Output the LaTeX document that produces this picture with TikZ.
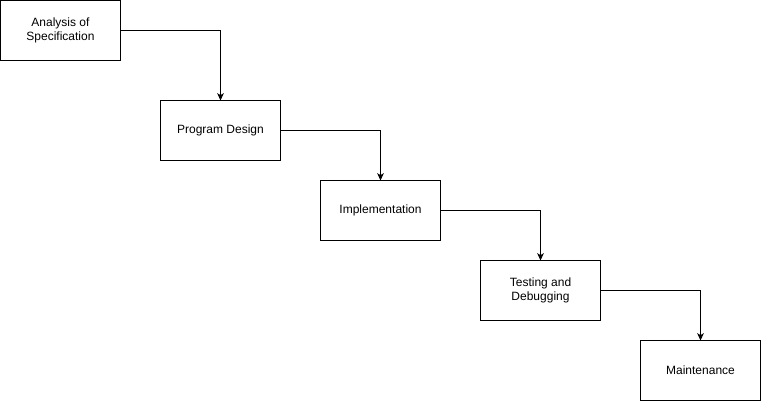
\documentclass[tikz,border=0pt]{standalone}
\usepackage{fontspec}
\setmainfont{Liberation Sans}
\usepackage{tikz}
\usetikzlibrary{positioning,arrows.meta}

\begin{document}
\begin{tikzpicture}[>={Stealth[length=5.5pt,width=5pt,inset=1.5pt]},
  line width=0.75pt,node distance=15pt and 30pt,
  stage node/.style={rectangle,draw,outer sep=0pt,minimum width=90pt,
    minimum height=45pt,align=center,font=\fontsize{9}{10.5}\selectfont}]
  \node[stage node] (1) {Analysis of\\Specification};
  \node[stage node] (2) [below right=30pt and 30pt of 1] {Program Design};
  \node[stage node] (3) [below right=of 2] {Implementation};
  \node[stage node] (4) [below right=of 3] {Testing and\\Debugging};
  \node[stage node] (5) [below right=of 4] {Maintenance};

  \useasboundingbox ([shift={(-0.375pt,0.375pt)}]1.north west)
    rectangle ([shift={(1.125pt,-1.125pt)}]5.south east);

  \draw[->] (1) -| (2);
  \draw[->] (2) -| (3);
  \draw[->] (3) -| (4);
  \draw[->] (4) -| (5);
\end{tikzpicture}
\end{document}
